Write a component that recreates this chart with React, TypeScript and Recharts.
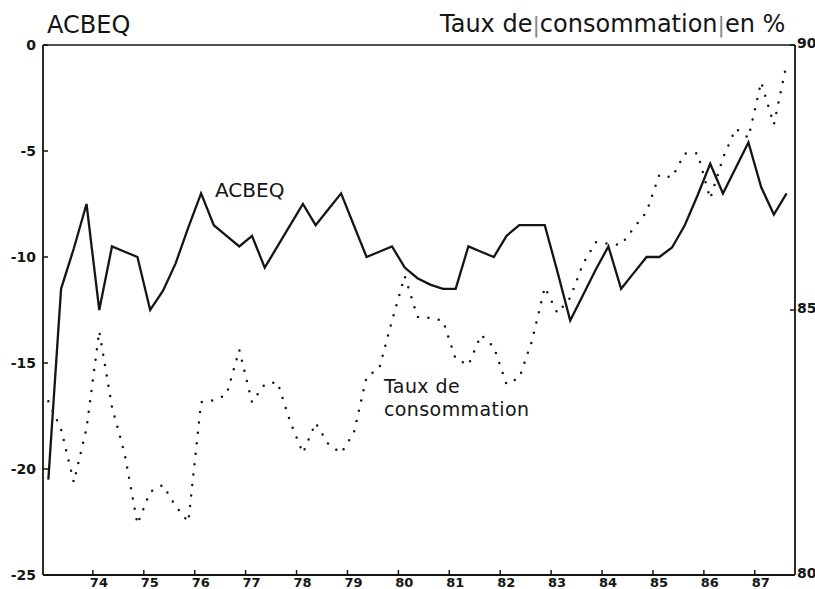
import { LineChart, Line, XAxis, YAxis, ReferenceLine } from 'recharts'

// quarterly series, first point = 1st quarter of 1973
const startYear = 73

const acbeq = [
  -20.5, -11.5, -9.6, -7.5, -12.5, -9.5, -9.75, -10, -12.5, -11.6,
  -10.3, -8.6, -7, -8.5, -9, -9.5, -9, -10.5, -9.5, -8.5,
  -7.5, -8.5, -7.75, -7, -8.5, -10, -9.75, -9.5, -10.5, -11,
  -11.3, -11.5, -11.5, -9.5, -9.75, -10, -9, -8.5, -8.5, -8.5,
  -10.7, -13, -11.8, -10.6, -9.5, -11.5, -10.75, -10, -10, -9.55,
  -8.5, -7.1, -5.6, -7, -5.8, -4.6, -6.7, -8, -7,
]

const tauxConsommation = [
  83.28, 82.75, 81.75, 82.77, 84.6, 83.17, 82.28, 80.96, 81.57, 81.7,
  81.3, 81.0, 83.26, 83.3, 83.4, 84.25, 83.26, 83.6, 83.64, 82.89,
  82.3, 82.87, 82.47, 82.3, 82.68, 83.74, 83.9, 84.8, 85.64, 84.87,
  84.85, 84.8, 84.08, 83.96, 84.53, 84.3, 83.6, 83.72, 84.42, 85.43,
  84.94, 85.23, 85.87, 86.28, 86.25, 86.23, 86.55, 86.85, 87.55, 87.5,
  87.95, 87.96, 87.1, 87.87, 88.42, 88.25, 89.3, 88.5, 89.64,
]

const xTicks = [74, 75, 76, 77, 78, 79, 80, 81, 82, 83, 84, 85, 86, 87]
const leftTicks = [-25, -20, -15, -10, -5, 0]
const rightTicks = [80, 85, 90]

const data = acbeq.map((v, i) => ({
  t: startYear + (i + 0.5) / 4,
  acbeq: v,
  taux: tauxConsommation[i],
}))

const ink = '#151515'
const tickFont = { fontFamily: '"DejaVu Sans", sans-serif', fontWeight: 700, fontSize: 14 }
const labelFont = '"DejaVu Sans", sans-serif'

function XTick({ x, y, payload }: any) {
  return (
    <g>
      <line x1={x} y1={y} x2={x} y2={y - 5} stroke={ink} strokeWidth={1.5} />
      <text x={x + 6} y={y + 12} textAnchor="middle" fill={ink} {...tickFont} fontSize={13}>
        {payload.value}
      </text>
    </g>
  )
}

function LeftTick({ x, y, payload }: any) {
  return (
    <g>
      <line x1={x} y1={y} x2={x + 5} y2={y} stroke={ink} strokeWidth={1.5} />
      <text x={x - 7} y={y} textAnchor="end" dominantBaseline="central" fill={ink} {...tickFont}>
        {payload.value}
      </text>
    </g>
  )
}

function RightTick({ x, y, payload }: any) {
  return (
    <g>
      <line x1={x} y1={y} x2={x - 5} y2={y} stroke={ink} strokeWidth={1.5} />
      <text x={x + 2} y={y - 2} textAnchor="start" dominantBaseline="central" fill={ink} {...tickFont}>
        {payload.value}
      </text>
    </g>
  )
}

export default function App() {
  return (
    <div style={{ position: 'absolute', left: 0, top: 0, width: 815, height: 589, background: '#fff' }}>
      <LineChart width={815} height={589} data={data} margin={{ top: 45, right: 0, bottom: 0, left: 0 }}>
        <XAxis
          type="number"
          dataKey="t"
          domain={[73.02, 87.79]}
          allowDataOverflow
          ticks={xTicks}
          height={14}
          tickSize={0}
          tickMargin={0}
          tickLine={false}
          axisLine={{ stroke: ink, strokeWidth: 1.8 }}
          tick={<XTick />}
          interval={0}
        />
        <YAxis
          yAxisId="left"
          domain={[-25, 0]}
          ticks={leftTicks}
          width={43}
          tickSize={0}
          tickMargin={0}
          tickLine={false}
          axisLine={{ stroke: ink, strokeWidth: 1.8 }}
          tick={<LeftTick />}
          interval={0}
        />
        <YAxis
          yAxisId="right"
          orientation="right"
          domain={[80, 90]}
          ticks={rightTicks}
          width={20}
          tickSize={0}
          tickMargin={0}
          tickLine={false}
          axisLine={{ stroke: ink, strokeWidth: 1.8 }}
          tick={<RightTick />}
          interval={0}
        />
        <ReferenceLine yAxisId="left" y={0} stroke={ink} strokeWidth={1.5} />
        <Line
          yAxisId="right"
          dataKey="taux"
          type="linear"
          stroke={ink}
          strokeWidth={2.5}
          strokeDasharray="0 10.5"
          strokeLinecap="round"
          dot={false}
          activeDot={false}
          isAnimationActive={false}
        />
        <Line
          yAxisId="left"
          dataKey="acbeq"
          type="linear"
          stroke={ink}
          strokeWidth={2.3}
          strokeLinejoin="miter"
          dot={false}
          activeDot={false}
          isAnimationActive={false}
        />
      </LineChart>
      <svg
        width={815}
        height={589}
        style={{ position: 'absolute', left: 0, top: 0, pointerEvents: 'none' }}
      >
        <g fontFamily={labelFont} fill={ink}>
          <text x={47} y={33} fontSize={24}>ACBEQ</text>
          <text x={440} y={32} fontSize={24}>
            Taux de<tspan fill="#888" fontSize={22}>|</tspan>consommation<tspan fill="#888" fontSize={22}>|</tspan>en %
          </text>
          <text x={215} y={197} fontSize={20}>ACBEQ</text>
          <text x={384} y={393} fontSize={19} letterSpacing={0.4}>Taux de</text>
          <text x={384} y={416} fontSize={19} letterSpacing={0.4}>consommation</text>
        </g>
      </svg>
    </div>
  )
}
